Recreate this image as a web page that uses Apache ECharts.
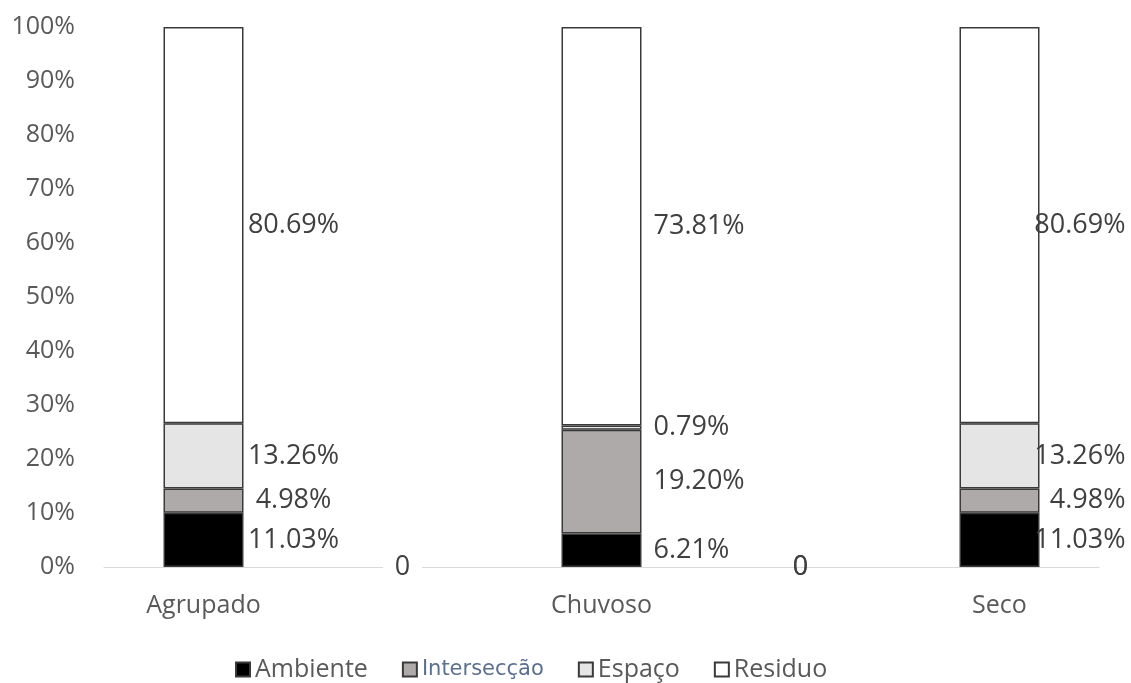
<!DOCTYPE html>
<html>
<head>
<meta charset="utf-8">
<script src="https://cdn.jsdelivr.net/npm/echarts@6/dist/echarts.min.js"></script>
<style>
  html, body { margin: 0; padding: 0; background: #ffffff; }
  #chart { width: 1131px; height: 683px; }
</style>
</head>
<body>
<div id="chart"></div>
<script>
// Categories (the unnamed slots separate the three groups)
const categories = ['Agrupado', '', 'Chuvoso', '', 'Seco'];
const seriesNames = ['Ambiente', 'Intersecção', 'Espaço', 'Residuo'];

// Raw component values in %; '-' = no value in that slot
const ambiente    = [11.03, 0,   6.21,  0,   11.03];
const interseccao = [4.98,  '-', 19.20, 0,   4.98];
const espaco      = [13.26, '-', 0.79,  '-', 13.26];
const residuo     = [80.69, '-', 73.81, '-', 80.69];

// Value-axis tick labels
const yTickLabels = ['0%', '10%', '20%', '30%', '40%', '50%', '60%', '70%', '80%', '90%', '100%'];

const FONT = '"Open Sans", "Noto Sans", sans-serif';
const rawSeries = [ambiente, interseccao, espaco, residuo];
const colors = ['#000000', '#aeaaaa', '#e5e5e5', '#ffffff'];

// Label anchoring for each group (relative to the right edge of the bar)
const labelPlacement = [
  { align: 'center', distance: 50 },
  null,
  { align: 'left', distance: 12 },
  null,
  { align: 'right', distance: 86 }
];
// Look of the "0" labels in the empty slots
const zeroLabelStyle = [
  null,
  { backgroundColor: '#ffffff', padding: [2, 12] },
  null,
  {},
  null
];

const num = v => (typeof v === 'number' ? v : 0);
// Each column is stacked to 100 %
const totals = categories.map((_, i) => rawSeries.reduce((s, arr) => s + num(arr[i]), 0));

const series = rawSeries.map((vals, si) => ({
  name: seriesNames[si],
  type: 'bar',
  stack: 'total',
  barWidth: 80,
  itemStyle: { color: colors[si], borderColor: '#3a3a3a', borderWidth: 1.5 },
  label: {
    show: true,
    position: 'right',
    fontFamily: FONT,
    fontSize: 27,
    color: '#404040',
    formatter: p => (p.data.raw === 0 ? '0' : p.data.raw.toFixed(2) + '%')
  },
  data: vals.map((v, i) => {
    if (typeof v !== 'number') return '-';
    const share = totals[i] ? (v / totals[i]) * 100 : 0;
    const item = { value: share, raw: v };
    if (v === 0) {
      item.itemStyle = { color: 'transparent', borderWidth: 0 };
      item.label = Object.assign({ position: 'inside' }, zeroLabelStyle[i]);
    } else {
      item.label = Object.assign({}, labelPlacement[i]);
    }
    return item;
  })
}));

const chart = echarts.init(document.getElementById('chart'), null, { renderer: 'canvas' });
chart.setOption({
  animation: false,
  backgroundColor: '#ffffff',
  grid: { left: 104, right: 32, top: 27, bottom: 116 },
  xAxis: {
    type: 'category',
    data: categories,
    axisLine: { lineStyle: { color: '#d9d9d9', width: 1 } },
    axisTick: { show: false },
    axisLabel: { fontFamily: FONT, fontSize: 25, color: '#595959', margin: 26 }
  },
  yAxis: {
    type: 'value',
    min: 0,
    max: 100,
    interval: 10,
    axisLine: { show: false },
    axisTick: { show: false },
    splitLine: { show: false },
    axisLabel: {
      fontFamily: FONT,
      fontSize: 25,
      color: '#595959',
      margin: 29,
      formatter: v => yTickLabels[Math.round(v / 10)]
    }
  },
  legend: {
    left: 230,
    top: 652,
    itemWidth: 14,
    itemHeight: 14,
    itemGap: 34,
    icon: 'rect',
    textStyle: { fontFamily: FONT, fontSize: 25, color: '#595959' },
    data: [
      { name: 'Ambiente' },
      { name: 'Intersecção', textStyle: { fontFamily: '"DejaVu Sans", sans-serif', fontSize: 21, color: '#5b6f8e' } },
      { name: 'Espaço' },
      { name: 'Residuo' }
    ]
  },
  series: series
});
</script>
</body>
</html>
